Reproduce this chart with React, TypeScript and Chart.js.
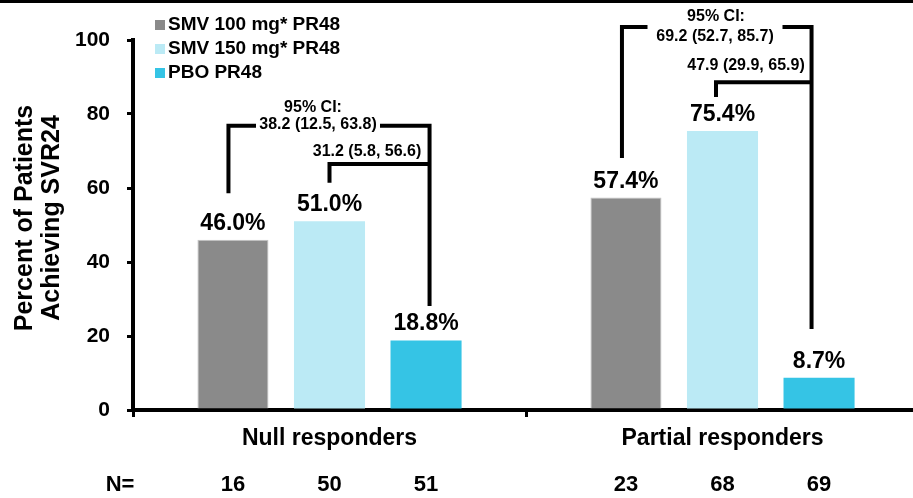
import { useEffect, useRef } from "react";
import { Chart, registerables } from "chart.js";

Chart.register(...registerables);

// ---- data ----
const categories = ["Null responders", "Partial responders"];
const seriesLabels = ["SMV 100 mg* PR48", "SMV 150 mg* PR48", "PBO PR48"];
const smv100 = [46.0, 57.4];
const smv150 = [51.0, 75.4];
const pbo = [18.8, 8.7];
const nSmv100 = [16, 23];
const nSmv150 = [50, 68];
const nPbo = [51, 69];
const yTickStep = 20;
const yMax = 100;
const yTitle = ["Percent of Patients", "Achieving SVR24"];

// treatment-difference brackets (levels in % units)
const brackets = [
  { cat: 0, from: 0, to: 2, top: 76.8, fromEnd: 58.6, toEnd: 28.1, dxFrom: -4.5, dxTo: 3.5,
    text: "38.2 (12.5, 63.8)", textDx: -11.5, textAt: 77.2, gap: 124 },
  { cat: 0, from: 1, to: 2, top: 66.5, fromEnd: 61.4, toEnd: 66.5, dxFrom: 0, dxTo: 3.5,
    text: "31.2 (5.8, 56.6)", textDx: 37.5, textAt: 69.9, gap: 0 },
  { cat: 1, from: 0, to: 2, top: 103.5, fromEnd: 68.1, toEnd: 21.9, dxFrom: -4, dxTo: -7.5,
    text: "69.2 (52.7, 85.7)", textDx: -7.5, textAt: 100.8, gap: 135 },
  { cat: 1, from: 1, to: 2, top: 88.6, fromEnd: 84.6, toEnd: 88.6, dxFrom: -6.5, dxTo: -7.5,
    text: "47.9 (29.9, 65.9)", textDx: 23.5, textAt: 93.2, gap: 0 },
];
const ciHeadings = [
  { cat: 0, text: "95% CI:", dx: -16.5, at: 81.8 },
  { cat: 1, text: "95% CI:", dx: -6.5, at: 106.2 },
];

const colors = ["#8a8a8a", "#bbeaf5", "#35c4e5"];
const FAMILY = '"Liberation Sans", Arial, Helvetica, sans-serif';
const font = (size: number) => `bold ${size}px ${FAMILY}`;

const overlay = {
  id: "overlay",
  afterDatasetsDraw(chart: any) {
    const { ctx, scales } = chart;
    const x = scales.x;
    const y = scales.y;
    const barX = (ds: number, cat: number) => chart.getDatasetMeta(ds).data[cat].x;
    ctx.save();
    ctx.fillStyle = "#000";
    ctx.strokeStyle = "#000";

    // rule across the top
    ctx.fillRect(0, 0, chart.width, 3);

    // y-axis title, two rotated lines
    ctx.save();
    ctx.font = font(25);
    ctx.textAlign = "center";
    ctx.textBaseline = "middle";
    ctx.translate(25, 218);
    ctx.rotate(-Math.PI / 2);
    yTitle.forEach((line, i) => ctx.fillText(line, 0, i * 27.5));
    ctx.restore();

    // value labels
    ctx.font = font(23);
    ctx.textAlign = "center";
    ctx.textBaseline = "alphabetic";
    chart.data.datasets.forEach((ds: any, i: number) => {
      chart.getDatasetMeta(i).data.forEach((bar: any, j: number) => {
        ctx.fillText(`${Number(ds.data[j]).toFixed(1)}%`, bar.x, bar.y - 10);
      });
    });

    // brackets
    ctx.lineWidth = 4;
    ctx.lineJoin = "miter";
    ctx.lineCap = "butt";
    brackets.forEach((b) => {
      const xl = barX(b.from, b.cat) + b.dxFrom;
      const xr = barX(b.to, b.cat) + b.dxTo;
      const yt = y.getPixelForValue(b.top);
      const yl = y.getPixelForValue(b.fromEnd);
      const yr = y.getPixelForValue(b.toEnd);
      const tx = x.getPixelForValue(b.cat) + b.textDx;
      if (b.gap > 0) {
        ctx.beginPath();
        ctx.moveTo(xl, yl);
        ctx.lineTo(xl, yt);
        ctx.lineTo(tx - b.gap / 2, yt);
        ctx.stroke();
        ctx.beginPath();
        ctx.moveTo(tx + b.gap / 2, yt);
        ctx.lineTo(xr, yt);
        ctx.lineTo(xr, yr);
        ctx.stroke();
      } else {
        ctx.beginPath();
        ctx.moveTo(xl, yl);
        ctx.lineTo(xl, yt);
        ctx.lineTo(xr, yt);
        ctx.lineTo(xr, yr);
        ctx.stroke();
      }
      ctx.font = font(16);
      ctx.textBaseline = "middle";
      ctx.fillText(b.text, tx, y.getPixelForValue(b.textAt));
    });
    ciHeadings.forEach((h) => {
      ctx.font = font(16);
      ctx.textBaseline = "middle";
      ctx.fillText(h.text, x.getPixelForValue(h.cat) + h.dx, y.getPixelForValue(h.at));
    });

    // sample sizes
    const nRow = [nSmv100, nSmv150, nPbo];
    ctx.font = font(22);
    ctx.textBaseline = "middle";
    ctx.fillText("N=", 120, 485);
    nRow.forEach((ns, i) => {
      ns.forEach((n, j) => ctx.fillText(String(n), barX(i, j), 485));
    });

    // legend
    ctx.font = font(19);
    ctx.textAlign = "left";
    chart.data.datasets.forEach((ds: any, i: number) => {
      const cy = 25 + i * 24;
      ctx.fillStyle = ds.backgroundColor;
      ctx.fillRect(155, cy - 5, 10, 10);
      ctx.fillStyle = "#000";
      ctx.fillText(ds.label, 168, cy);
    });
    ctx.restore();
  },
};

export default function App() {
  const ref = useRef<HTMLCanvasElement | null>(null);

  useEffect(() => {
    if (!ref.current) return;
    const series = [smv100, smv150, pbo];
    const chart = new Chart(ref.current, {
      type: "bar",
      data: {
        labels: categories,
        datasets: series.map((d, i) => ({
          label: seriesLabels[i],
          data: d,
          backgroundColor: colors[i],
          borderColor: i === 0 ? "#c4c4c4" : colors[i],
          borderWidth: i === 0 ? 1 : 0,
          categoryPercentage: 0.737,
          barPercentage: 0.736,
        })),
      },
      options: {
        responsive: false,
        animation: false,
        events: [],
        layout: { padding: { top: 40, right: 6, left: 0, bottom: 0 } },
        plugins: {
          legend: { display: false },
          tooltip: { enabled: false },
        },
        scales: {
          x: {
            offset: true,
            grid: {
              offset: true,
              drawOnChartArea: false,
              drawTicks: true,
              tickLength: 7,
              color: "#000",
              lineWidth: 3,
            },
            border: { color: "#000", width: 4 },
            ticks: { color: "#000", font: { family: FAMILY, size: 23, weight: "bold" }, padding: 8 },
            afterFit: (s: any) => {
              s.height = 88;
            },
          },
          y: {
            min: 0,
            max: yMax,
            ticks: {
              stepSize: yTickStep,
              color: "#000",
              font: { family: FAMILY, size: 21, weight: "bold" },
              padding: 17,
            },
            grid: {
              drawOnChartArea: false,
              drawTicks: true,
              tickLength: 6,
              color: "#000",
              lineWidth: 3,
            },
            border: { color: "#000", width: 4 },
            afterFit: (s: any) => {
              s.width = 133;
            },
          },
        },
      },
      plugins: [overlay],
    });
    return () => chart.destroy();
  }, []);

  return (
    <div
      style={{
        position: "fixed",
        left: 0,
        top: 0,
        width: 913,
        height: 498,
        overflow: "hidden",
        background: "#fff",
      }}
    >
      <canvas ref={ref} width={925} height={498} style={{ display: "block" }} />
    </div>
  );
}
